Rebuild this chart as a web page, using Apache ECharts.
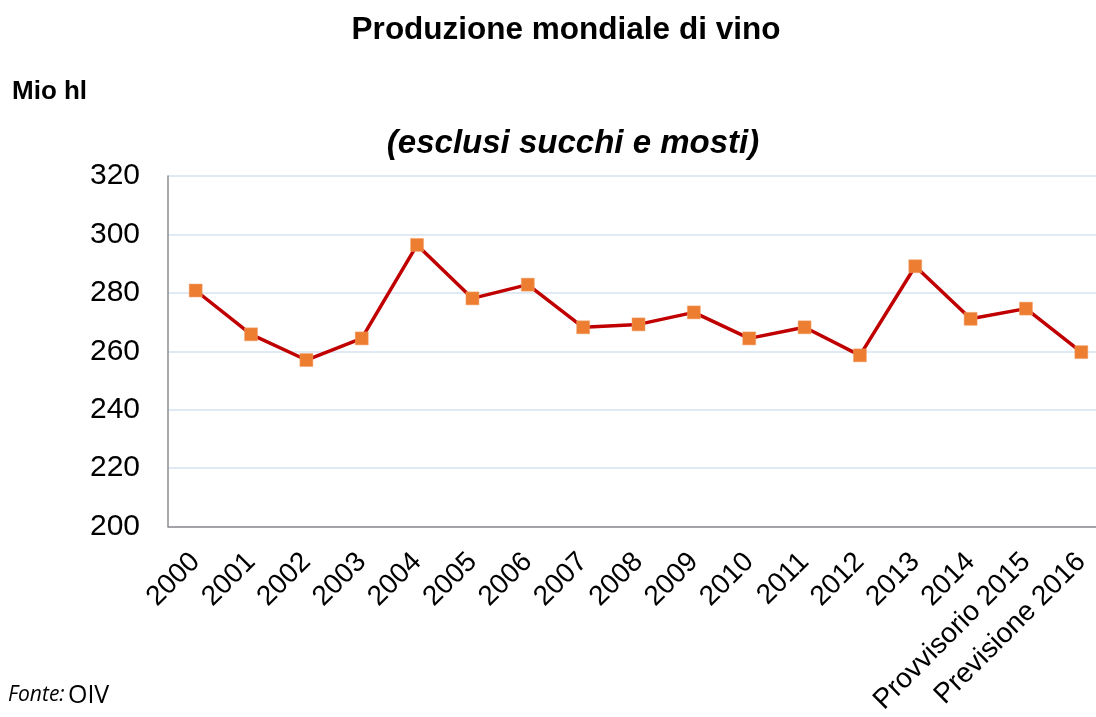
<!DOCTYPE html>
<html>
<head>
<meta charset="utf-8">
<script src="https://cdn.jsdelivr.net/npm/echarts@6/dist/echarts.min.js"></script>
<style>html,body{margin:0;padding:0;background:#fff;overflow:hidden;width:1096px;height:717px}#c{width:1109px;height:717px}</style>
</head>
<body>
<div id="c"></div>
<script>
var categories = ['2000','2001','2002','2003','2004','2005','2006','2007','2008','2009','2010','2011','2012','2013','2014','Provvisorio 2015','Previsione 2016'];
var production = [280.8, 265.8, 257.0, 264.4, 296.4, 278.1, 282.8, 268.2, 269.2, 273.3, 264.4, 268.2, 258.6, 289.1, 271.1, 274.6, 259.7];
var yTicks = [200, 220, 240, 260, 280, 300, 320];
var titleText = 'Produzione mondiale di vino';
var subtitleText = '(esclusi succhi e mosti)';
var unitText = 'Mio hl';

var chart = echarts.init(document.getElementById('c'));
chart.setOption({
  animation: false,
  backgroundColor: '#ffffff',
  grid: { left: 168, top: 176, right: 0, bottom: 189, containLabel: false },
  xAxis: {
    type: 'category',
    data: categories,
    boundaryGap: true,
    axisLine: { lineStyle: { color: '#8c8c8c', width: 1.5 } },
    axisTick: { show: false },
    axisLabel: { rotate: 45, interval: 0, margin: 31, color: '#000', fontSize: 28, fontFamily: 'Liberation Sans, Arial, sans-serif' }
  },
  yAxis: {
    type: 'value',
    min: yTicks[0],
    max: yTicks[yTicks.length - 1],
    interval: 20,
    axisLine: { show: true, lineStyle: { color: '#8c8c8c', width: 1.5 } },
    axisTick: { show: false },
    splitLine: { lineStyle: { color: '#d6e3f0', width: 1.5 } },
    axisLabel: { margin: 28, color: '#000', fontSize: 30, fontFamily: 'Liberation Sans, Arial, sans-serif' }
  },
  series: [{
    type: 'line',
    data: production,
    symbol: 'rect',
    symbolSize: 13,
    lineStyle: { color: '#c00000', width: 3.5 },
    itemStyle: { color: '#ed7d31', borderColor: '#f3a46e', borderWidth: 0.5 },
    z: 3
  }],
  graphic: [
    { type: 'text', x: 566, y: 14, style: { text: titleText, textAlign: 'center', textVerticalAlign: 'top', fontSize: 31.5, fontWeight: 'bold', fontFamily: 'Liberation Sans, Arial, sans-serif', fill: '#000' } },
    { type: 'text', x: 12, y: 79, style: { text: unitText, textAlign: 'left', textVerticalAlign: 'top', fontSize: 26, fontWeight: 'bold', fontFamily: 'Liberation Sans, Arial, sans-serif', fill: '#000' } },
    { type: 'text', x: 573, y: 127, style: { text: subtitleText, textAlign: 'center', textVerticalAlign: 'top', fontSize: 33, fontWeight: 'bold', fontStyle: 'italic', fontFamily: 'Liberation Sans, Arial, sans-serif', fill: '#000' } },
    { type: 'text', x: 8, y: 683, style: {
        text: '{a|Fonte:} {b|OIV}',
        textAlign: 'left', textVerticalAlign: 'top',
        rich: {
          a: { fontSize: 21, fontStyle: 'italic', fontFamily: 'Open Sans, Liberation Sans, sans-serif', fill: '#000', color: '#000' },
          b: { fontSize: 25, fontFamily: 'Open Sans, Liberation Sans, sans-serif', fill: '#000', color: '#000' }
        }
    } }
  ]
});
</script>
</body>
</html>
